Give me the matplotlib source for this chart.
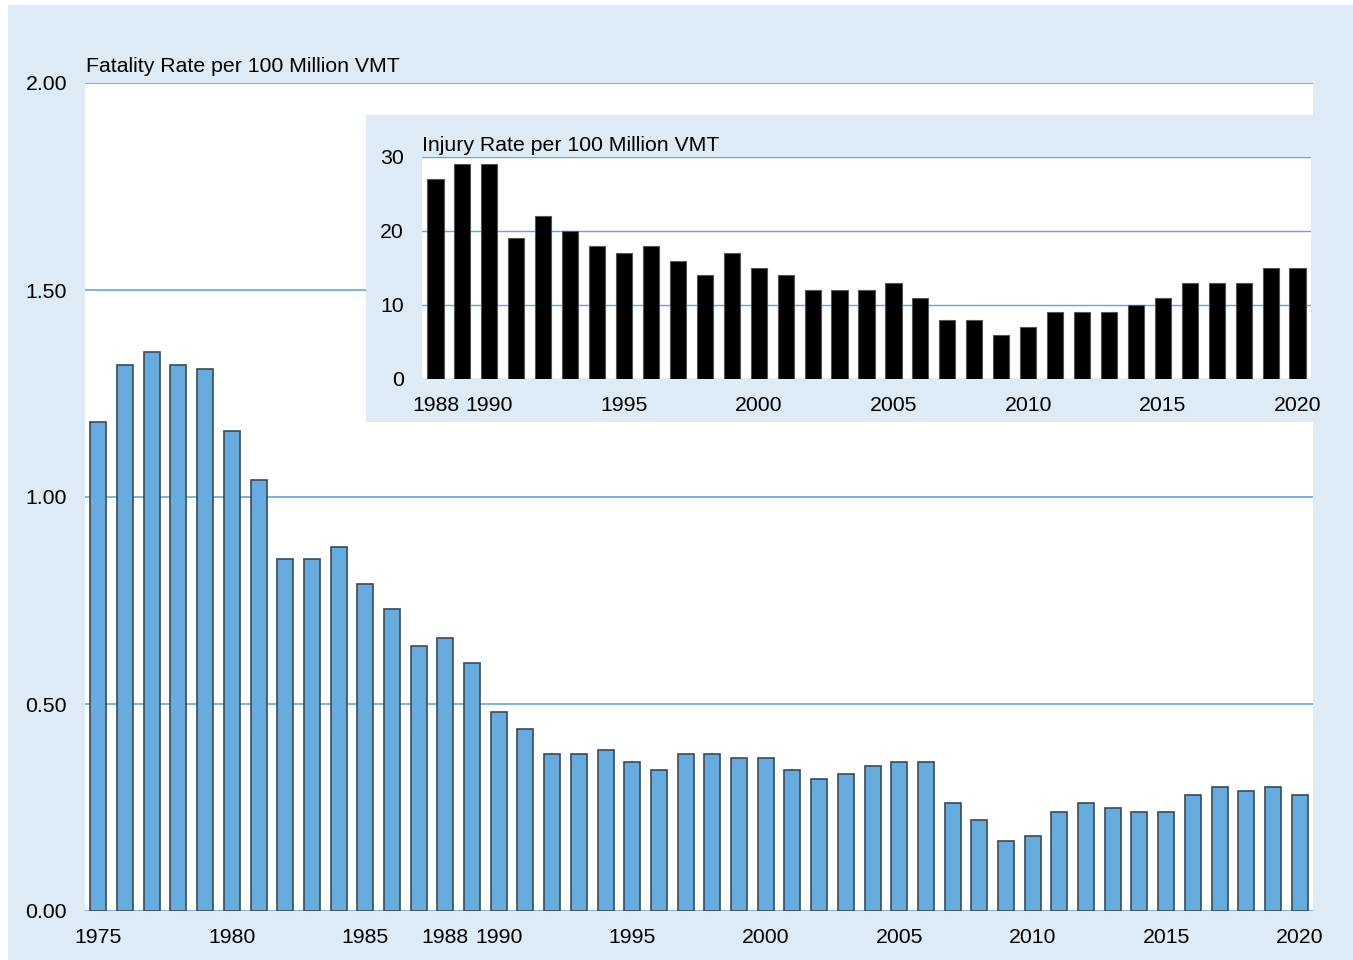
import matplotlib.pyplot as plt
from matplotlib.patches import Rectangle

plt.rcParams['font.family'] = ['Liberation Sans', 'DejaVu Sans']

BG = '#DDEBF6'
BAR_BLUE = '#66ACDE'
GRID_BLUE = '#5FA8DF'
FS = 15.3

# fatality rate per 100 million VMT, 1975-2020
fatal_years = list(range(1975, 2021))
fatal_rate = [1.18, 1.32, 1.35, 1.32, 1.31, 1.16, 1.04, 0.85, 0.85, 0.88,
              0.79, 0.73, 0.64, 0.66, 0.60, 0.48, 0.44, 0.38, 0.38, 0.39,
              0.36, 0.34, 0.38, 0.38, 0.37, 0.37, 0.34, 0.32, 0.33, 0.35,
              0.36, 0.36, 0.26, 0.22, 0.17, 0.18, 0.24, 0.26, 0.25, 0.24,
              0.24, 0.28, 0.30, 0.29, 0.30, 0.28]
fatal_ticks = [1975, 1980, 1985, 1988, 1990, 1995, 2000, 2005, 2010, 2015, 2020]
fatal_yticks = [0.0, 0.5, 1.0, 1.5, 2.0]

# injury rate per 100 million VMT, 1988-2020
injury_years = list(range(1988, 2021))
injury_rate = [27, 29, 29, 19, 22, 20, 18, 17, 18, 16, 14, 17, 15, 14, 12, 12,
               12, 13, 11, 8, 8, 6, 7, 9, 9, 9, 10, 11, 13, 13, 13, 15, 15]
injury_ticks = [1988, 1990, 1995, 2000, 2005, 2010, 2015, 2020]
injury_yticks = [0, 10, 20, 30]

W, H = 1353, 960
fig = plt.figure(figsize=(W / 100, H / 100), dpi=100)
fig.patch.set_facecolor('white')
fig.patches.append(Rectangle((8 / W, 0), 1 - 8 / W, 1 - 5 / H,
                             transform=fig.transFigure, facecolor=BG,
                             edgecolor='none', zorder=-10))

# main chart
ax = fig.add_axes([85 / W, 1 - 911 / H, (1313 - 85) / W, (911 - 83) / H])
ax.set_facecolor('white')
ax.bar(fatal_years, fatal_rate, width=0.6, color=BAR_BLUE,
       edgecolor='#3A4A58', linewidth=1.2, zorder=3)
ax.set_xlim(1974.5, 2020.5)
ax.set_ylim(0, 2.0)
ax.set_yticks(fatal_yticks)
ax.set_yticklabels([f'{v:.2f}' for v in fatal_yticks])
ax.set_xticks(fatal_ticks)
ax.set_xticklabels([str(t) for t in fatal_ticks])
ax.grid(axis='y', color=GRID_BLUE, linewidth=1.2, zorder=0)
ax.set_axisbelow(True)
for s in ax.spines.values():
    s.set_visible(False)
ax.tick_params(length=0, labelsize=FS, pad=12)
ax.tick_params(axis='y', pad=13)
ax.text(0.001, 1.009, 'Fatality Rate per 100 Million VMT', transform=ax.transAxes,
        fontsize=FS, ha='left', va='bottom')

# inset background box
fig.patches.append(Rectangle((366 / W, 1 - 422 / H), (1313 - 366) / W, (422 - 115) / H,
                             transform=fig.transFigure, facecolor=BG,
                             edgecolor='none', zorder=1))

# inset chart
ax2 = fig.add_axes([422 / W, 1 - 379 / H, (1311 - 422) / W, (379 - 157) / H])
ax2.set_zorder(5)
ax2.set_facecolor('white')
ax2.bar(injury_years, injury_rate, width=0.6, color='black',
        edgecolor='#555555', linewidth=0.8, zorder=3)
ax2.set_xlim(1987.5, 2020.5)
ax2.set_ylim(0, 30)
ax2.set_yticks(injury_yticks)
ax2.set_xticks(injury_ticks)
ax2.set_xticklabels([str(t) for t in injury_ticks])
ax2.grid(axis='y', color=GRID_BLUE, linewidth=1.0, zorder=0)
ax2.set_axisbelow(True)
for s in ax2.spines.values():
    s.set_visible(False)
ax2.tick_params(length=0, labelsize=FS, pad=12)
ax2.tick_params(axis='y', pad=13)
ax2.text(0.0, 1.01, 'Injury Rate per 100 Million VMT', transform=ax2.transAxes,
         fontsize=FS, ha='left', va='bottom')

fig.savefig('out.png', dpi=100, facecolor=fig.get_facecolor())
